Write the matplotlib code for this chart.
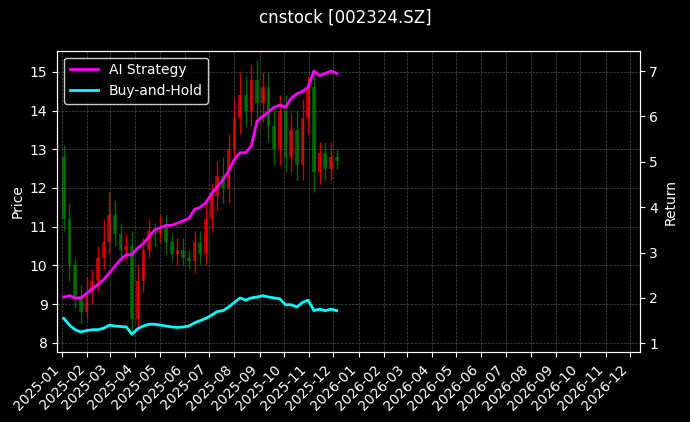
import matplotlib
matplotlib.use("Agg")
import matplotlib.pyplot as plt
import matplotlib.dates as mdates
import pandas as pd
import numpy as np

dates = pd.date_range("2025-01-03", periods=49, freq="7D")
close = [11.2, 10.0, 9.2, 8.8, 9.3, 9.6, 10.2, 10.6, 11.3, 10.8, 10.4, 10.5,
         8.6, 9.6, 10.4, 10.9, 10.8, 11.0, 10.6, 10.3, 10.4, 10.2, 10.1, 10.6,
         10.3, 11.2, 11.8, 12.3, 12.0, 13.0, 13.8, 14.4, 14.0, 14.8, 14.2, 14.6,
         13.6, 13.0, 14.0, 12.8, 13.5, 12.6, 13.8, 14.6, 12.4, 12.9, 12.5, 12.8, 12.7]
opens = [12.8] + close[:-1]
high = [max(o, c) + d for o, c, d in zip(opens, close, [0.3, 0.4, 0.2, 0.3, 0.4, 0.3, 0.3, 0.6, 0.6, 0.4, 0.3, 0.3,
         0.4, 0.4, 0.3, 0.3, 0.2, 0.3, 0.3, 0.2, 0.3, 0.3, 0.2, 0.3,
         0.3, 0.4, 0.3, 0.4, 0.5, 0.4, 0.5, 0.6, 0.5, 0.4, 0.5, 0.4,
         0.4, 0.5, 0.4, 0.4, 0.4, 0.5, 0.5, 0.3, 0.4, 0.3, 0.3, 0.4, 0.2])]
low = [min(o, c) - d for o, c, d in zip(opens, close, [0.3, 0.4, 0.3, 0.3, 0.2, 0.3, 0.3, 0.3, 0.3, 0.3, 0.3, 0.3,
         0.3, 0.3, 0.3, 0.2, 0.3, 0.2, 0.3, 0.2, 0.3, 0.2, 0.2, 0.3,
         0.3, 0.3, 0.3, 0.4, 0.4, 0.4, 0.3, 0.4, 0.4, 0.4, 0.4, 0.5,
         0.4, 0.4, 0.4, 0.4, 0.4, 0.4, 0.4, 0.4, 0.5, 0.3, 0.3, 0.3, 0.2])]
ai = [2.02, 2.05, 2.0, 2.0, 2.1, 2.2, 2.3, 2.4, 2.55, 2.7, 2.85, 2.95,
      2.95, 3.1, 3.2, 3.35, 3.5, 3.55, 3.6, 3.6, 3.65, 3.7, 3.75, 3.95,
      4.0, 4.1, 4.3, 4.45, 4.6, 4.8, 5.05, 5.2, 5.2, 5.35, 5.9, 6.0,
      6.1, 6.2, 6.25, 6.2, 6.4, 6.5, 6.55, 6.65, 7.0, 6.9, 6.95, 7.0, 6.95]
bh = [1.55, 1.4, 1.3, 1.25, 1.28, 1.3, 1.3, 1.33, 1.4, 1.38, 1.37, 1.36,
      1.2, 1.32, 1.38, 1.42, 1.42, 1.4, 1.38, 1.36, 1.35, 1.36, 1.38, 1.45,
      1.5, 1.55, 1.62, 1.7, 1.72, 1.8, 1.9, 2.0, 1.95, 2.0, 2.02, 2.05,
      2.02, 2.0, 1.98, 1.85, 1.85, 1.8, 1.9, 1.95, 1.72, 1.75, 1.72, 1.75, 1.72]

plt.style.use("dark_background")
fig, ax = plt.subplots(figsize=(6.9, 4.22), dpi=100)
fig.patch.set_facecolor("black")
ax.set_facecolor("black")
x = mdates.date2num(dates)
w = 4.5
for xi, o, h, l, c in zip(x, opens, high, low, close):
    col = "red" if c >= o else "green"
    ax.vlines(xi, l, h, color=col, lw=1, alpha=0.8)
    ax.bar(xi, abs(c - o) if abs(c - o) > 0.02 else 0.02, bottom=min(o, c), width=w, color=col, alpha=0.65)
ax.set_ylabel("Price")
ax.set_ylim(7.75, 15.55)
ax.grid(True, color="gray", ls="--", lw=0.5, alpha=0.6)
ax.set_xlim(mdates.date2num(pd.Timestamp("2024-12-26")), mdates.date2num(pd.Timestamp("2026-12-13")))
ax.xaxis.set_major_locator(mdates.MonthLocator())
ax.xaxis.set_major_formatter(mdates.DateFormatter("%Y-%m"))
plt.setp(ax.get_xticklabels(), rotation=45, ha="right")

ax2 = ax.twinx()
l1, = ax2.plot(dates, ai, color="magenta", lw=2, label="AI Strategy")
l2, = ax2.plot(dates, bh, color="cyan", lw=2, label="Buy-and-Hold")
ax2.set_ylim(0.8, 7.45)
ax2.set_ylabel("Return")
ax2.legend(handles=[l1, l2], loc="upper left", facecolor="black", edgecolor="white")
fig.suptitle("cnstock [002324.SZ]")
fig.subplots_adjust(left=0.083, right=0.927, top=0.88, bottom=0.165)
fig.savefig("out.png", dpi=100, facecolor="black")
